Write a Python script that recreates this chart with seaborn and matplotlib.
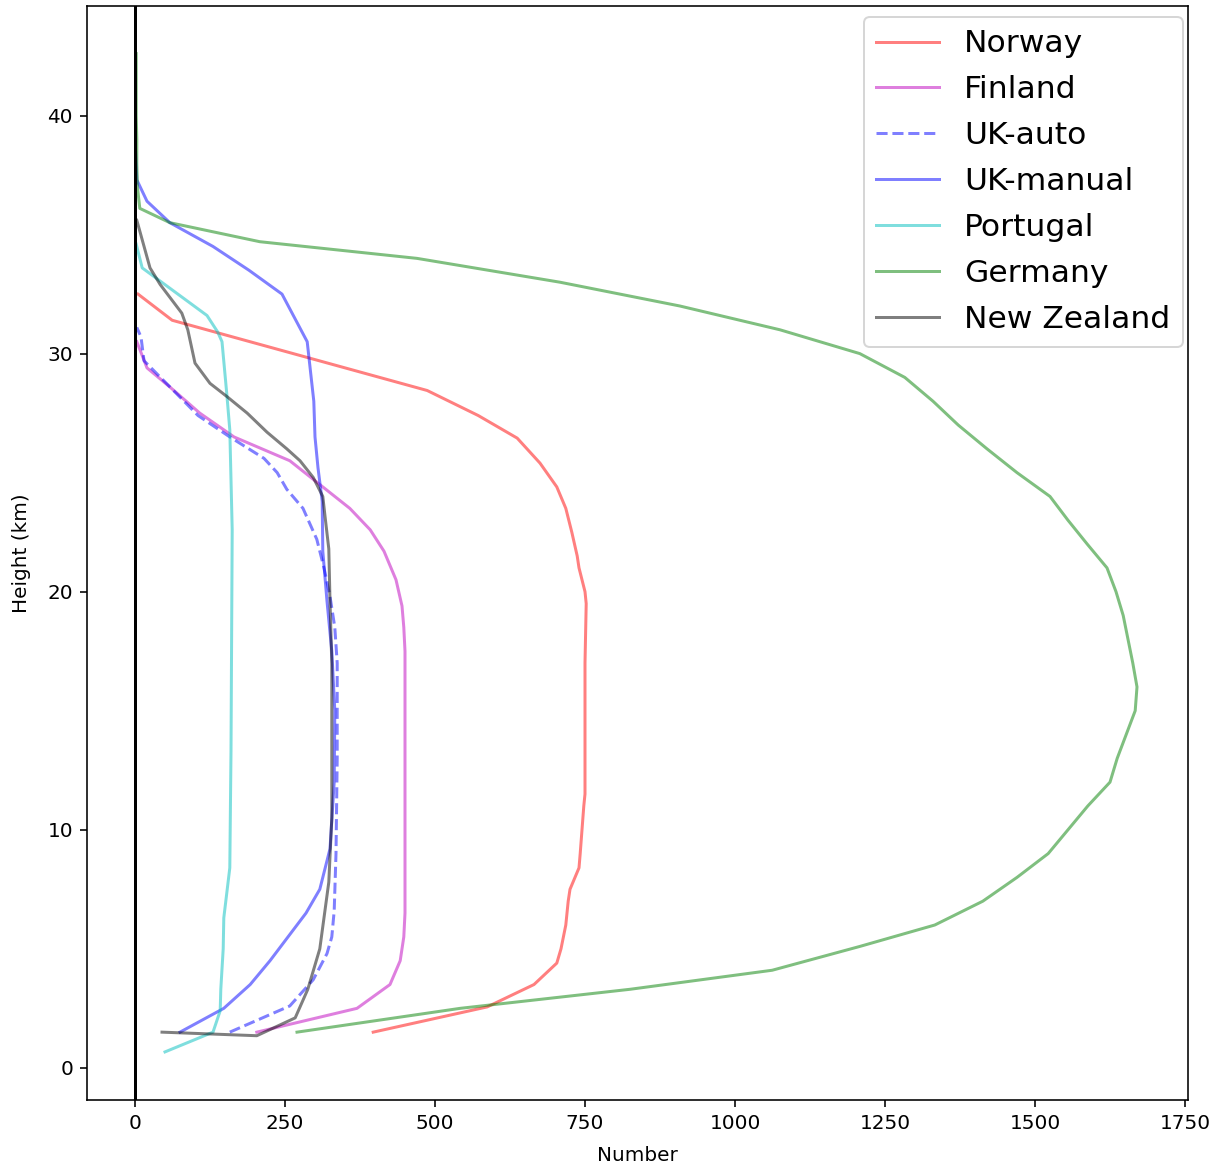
import matplotlib
matplotlib.use("Agg")
import matplotlib.pyplot as plt
import seaborn as sns
import pandas as pd

# Vertical profiles: number of observations per height level (km)
norway_h = [1.5, 2.56, 3.5, 4.4, 5.0, 6.0, 7.0, 7.5, 8.4, 9.0, 10.0, 11.0, 11.5, 13.0, 15.0, 17.0,
            19.5, 20.0, 21.0, 21.5, 22.5, 23.5, 24.4, 25.4, 26.45, 27.4, 28.45, 31.4, 32.5]
norway_v = [397, 587, 665, 703, 710, 718, 722, 725, 740, 742, 745, 748, 750, 750, 750, 750,
            752, 750, 740, 737, 728, 718, 703, 675, 637, 572, 487, 62, 5]

finland_h = [1.5, 2.5, 3.5, 4.5, 5.5, 6.5, 10.0, 14.0, 17.5, 18.5, 19.4, 20.5, 21.7, 22.6, 23.5,
             24.5, 25.5, 26.5, 27.5, 28.6, 29.4, 30.5]
finland_v = [203, 370, 425, 442, 448, 450, 450, 450, 450, 448, 445, 435, 415, 392, 358,
             308, 258, 165, 108, 58, 20, 3]

ukauto_h = [1.5, 2.6, 3.7, 4.8, 5.5, 6.6, 9.0, 13.0, 17.0, 18.5, 19.8, 21.0, 22.2, 23.5, 24.3,
            25.0, 25.6, 26.5, 27.4, 28.3, 29.7, 30.7, 31.1]
ukauto_v = [158, 258, 297, 320, 328, 332, 335, 337, 337, 333, 325, 315, 303, 280, 253,
            237, 215, 158, 105, 70, 15, 10, 3]

ukmanual_h = [1.5, 2.5, 3.5, 4.5, 5.6, 6.5, 7.5, 9.2, 12.0, 15.0, 17.5, 19.6, 21.7, 23.8, 25.2,
              26.5, 28.0, 30.5, 32.5, 33.5, 34.5, 35.5, 36.4, 37.3, 38.5]
ukmanual_v = [75, 148, 192, 225, 258, 285, 308, 325, 332, 333, 328, 320, 313, 312, 305,
              300, 298, 287, 245, 190, 130, 58, 20, 3, 1]

portugal_h = [0.67, 1.5, 2.4, 3.3, 5.0, 6.3, 8.4, 13.3, 22.6, 26.8, 28.3, 30.5, 30.9, 31.6,
              33.6, 34.6]
portugal_v = [50, 130, 142, 143, 147, 148, 158, 160, 162, 158, 153, 145, 138, 120,
              12, 2]

germany_h = [1.5, 2.5, 3.3, 4.1, 5.1, 6.0, 7.0, 8.0, 9.0, 10.0, 11.0, 12.0, 13.0, 14.0, 15.0,
             16.0, 17.0, 18.0, 19.0, 20.0, 21.0, 22.0, 23.0, 24.0, 25.0, 26.0, 27.0, 28.0, 29.0,
             30.0, 31.0, 32.0, 33.0, 34.0, 34.7, 35.5, 36.1, 37.0, 38.0, 39.0, 40.0, 41.0,
             42.0, 42.6]
germany_v = [270, 542, 825, 1062, 1208, 1333, 1413, 1470, 1522, 1555, 1588, 1625, 1637, 1652, 1667,
             1670, 1663, 1655, 1647, 1635, 1620, 1587, 1555, 1525, 1470, 1420, 1372, 1330, 1283,
             1208, 1075, 908, 708, 470, 208, 58, 8, 4, 3, 3, 2, 2,
             2, 2]

nz_h = [1.5, 1.35, 2.1, 3.3, 5.0, 7.8, 10.5, 13.3, 17.0, 19.6, 21.8, 23.1, 24.0, 24.8, 25.5,
        26.0, 26.7, 27.5, 28.2, 28.75, 29.6, 31.0, 31.7, 32.9, 33.6, 35.6]
nz_v = [45, 203, 267, 288, 308, 323, 328, 328, 328, 325, 323, 317, 313, 297, 275,
        253, 220, 187, 153, 125, 100, 88, 78, 42, 25, 3]

series = [
    ("Norway", norway_v, norway_h, "r", "-"),
    ("Finland", finland_v, finland_h, "m", "-"),
    ("UK-auto", ukauto_v, ukauto_h, "b", "--"),
    ("UK-manual", ukmanual_v, ukmanual_h, "b", "-"),
    ("Portugal", portugal_v, portugal_h, "c", "-"),
    ("Germany", germany_v, germany_h, "g", "-"),
    ("New Zealand", nz_v, nz_h, "k", "-"),
]

dpi = 144
fig = plt.figure(figsize=(1220 / dpi, 1172 / dpi), dpi=dpi)
ax = fig.add_axes([87 / 1220, 72 / 1172, (1188 - 87) / 1220, (1100 - 6) / 1172])

for name, vals, hts, col, ls in series:
    df = pd.DataFrame({"Number": vals, "Height": hts})
    sns.lineplot(data=df, x="Number", y="Height", sort=False, estimator=None,
                 color=col, alpha=0.5, linestyle=ls, linewidth=1.5, label=name, ax=ax)

ax.axvline(0, color="k", linewidth=1.5)

ax.set_xlim(-80, 1755)
ax.set_ylim(-1.35, 44.6)
ax.set_xlabel("Number", labelpad=6.5)
ax.set_ylabel("Height (km)", labelpad=8)
ax.legend(loc="upper right", fontsize=15.7, labelspacing=0.54,
          bbox_to_anchor=(0.9955, 0.99), borderaxespad=0)

fig.savefig("out.png", dpi=dpi)
